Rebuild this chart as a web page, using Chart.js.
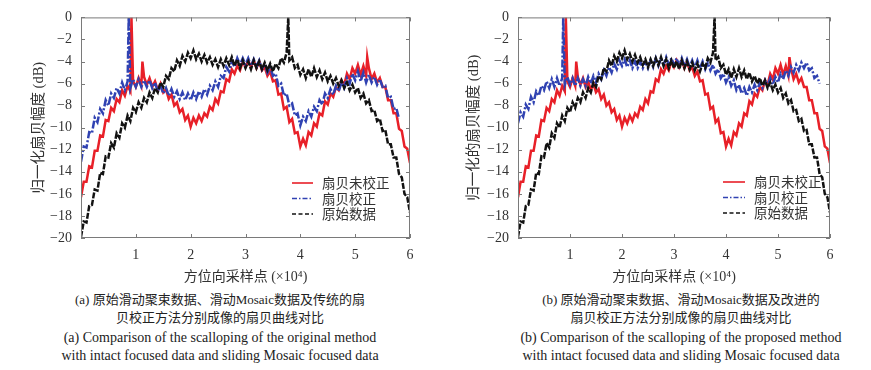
<!DOCTYPE html>
<html>
<head>
<meta charset="utf-8">
<script src="https://cdn.jsdelivr.net/npm/chart.js@4.4.1/dist/chart.umd.min.js"></script>
<style>
  html, body { margin:0; padding:0; background:#fff; }
  body { width:871px; height:370px; position:relative; overflow:hidden; }
  .cv { position:absolute; top:0; }
  .cap { position:absolute; text-align:center; white-space:nowrap; color:#222; }
  .zh { font-family:'Liberation Serif','Noto Sans CJK SC',serif; font-size:13px; line-height:18px; }
  .en { font-family:'Liberation Serif',serif; font-size:14px; line-height:18px; }
</style>
</head>
<body>
<canvas id="c1" class="cv" style="left:0px" width="440" height="290"></canvas>
<canvas id="c2" class="cv" style="left:440px" width="431" height="290"></canvas>

<div class="cap zh" style="left:20px;width:400px;top:291px">(a) 原始滑动聚束数据、滑动Mosaic数据及传统的扇</div>
<div class="cap zh" style="left:20px;width:400px;top:309px">贝校正方法分别成像的扇贝曲线对比</div>
<div class="cap en" style="left:20px;width:400px;top:329px">(a) Comparison of the scalloping of the original method</div>
<div class="cap en" style="left:20px;width:400px;top:347px">with intact focused data and sliding Mosaic focused data</div>

<div class="cap zh" style="left:481px;width:400px;top:291px">(b) 原始滑动聚束数据、滑动Mosaic数据及改进的</div>
<div class="cap zh" style="left:481px;width:400px;top:309px">扇贝校正方法分别成像的扇贝曲线对比</div>
<div class="cap en" style="left:481px;width:400px;top:329px">(b) Comparison of the scalloping of the proposed method</div>
<div class="cap en" style="left:481px;width:400px;top:347px">with intact focused data and sliding Mosaic focused data</div>

<script>
// ---- data (x in units of 10^4 azimuth samples, y in dB) ----
const xGrid = [0,0.05,0.1,0.15,0.2,0.25,0.3,0.35,0.4,0.45,0.5,0.55,0.6,0.65,0.7,0.75,0.8,0.85,0.9,0.95,
  1,1.05,1.1,1.15,1.2,1.25,1.3,1.35,1.4,1.45,1.5,1.55,1.6,1.65,1.7,1.75,1.8,1.85,1.9,1.95,
  2,2.05,2.1,2.15,2.2,2.25,2.3,2.35,2.4,2.45,2.5,2.55,2.6,2.65,2.7,2.75,2.8,2.85,2.9,2.95,
  3,3.05,3.1,3.15,3.2,3.25,3.3,3.35,3.4,3.45,3.5,3.55,3.6,3.65,3.7,3.75,3.8,3.85,3.9,3.95,
  4,4.05,4.1,4.15,4.2,4.25,4.3,4.35,4.4,4.45,4.5,4.55,4.6,4.65,4.7,4.75,4.8,4.85,4.9,4.95,
  5,5.05,5.1,5.15,5.2,5.25,5.3,5.35,5.4,5.45,5.5,5.55,5.6,5.65,5.7,5.75,5.8,5.85,5.9,5.95,6];

// 扇贝未校正 (same in both panels)
const redUncorrected = [-16.3,-14.9,-14.9,-13.5,-13.6,-12.1,-12.1,-10.7,-10.8,-9.3,-9.4,-8.2,-8.5,-7.4,-7.7,-6.6,-7.1,-6.2,-6.7,-5.8,
  -6.3,-5.5,-6.2,-5.4,-6.1,-5.5,-6.3,-5.8,-6.6,-6.0,-6.8,-6.5,-7.4,-7.0,-8.0,-7.7,-8.6,-8.3,-9.3,-8.9,
  -9.9,-9.1,-9.6,-8.9,-9.4,-8.7,-9.0,-8.1,-8.4,-7.4,-7.8,-6.7,-6.8,-5.6,-5.8,-4.7,-5.1,-4.4,-4.8,-4.0,
  -4.5,-3.9,-4.5,-3.9,-4.6,-4.0,-4.8,-4.5,-5.3,-4.9,-5.8,-5.7,-7.0,-6.9,-8.3,-8.1,-9.5,-9.2,-10.5,-10.4,
  -11.7,-11.0,-11.6,-10.4,-10.7,-9.6,-9.9,-8.7,-8.9,-7.6,-7.9,-6.9,-7.2,-6.3,-6.6,-5.7,-6.1,-5.1,-5.6,-4.6,
  -5.1,-4.3,-5.2,-4.4,-5.3,-4.6,-5.6,-5.1,-5.9,-5.5,-6.3,-6.3,-7.5,-7.5,-8.7,-8.7,-10.1,-10.3,-11.7,-11.9,-13.2];
const redSpikeX = [0.92, 1.12, 5.22];
const redSpikeY = [0, -4.0, -3.6];

// 扇贝校正 — panel (a), conventional correction (ends at 5.8)
const blueConventional = [-13.1,-11.7,-11.8,-10.4,-10.5,-9.1,-9.5,-8.3,-8.7,-7.5,-8.0,-6.9,-7.3,-6.4,-6.9,-5.9,-6.6,-5.8,-6.4,-5.6,
  -6.3,-5.6,-6.3,-5.7,-6.3,-5.7,-6.4,-5.9,-6.7,-6.2,-6.9,-6.4,-7.1,-6.5,-7.2,-6.7,-7.4,-6.8,-7.5,-6.9,
  -7.5,-6.8,-7.4,-6.7,-7.2,-6.5,-7.0,-6.2,-6.6,-5.8,-6.3,-5.3,-5.5,-4.5,-4.9,-4.0,-4.5,-3.7,-4.3,-3.7,
  -4.3,-3.7,-4.4,-3.8,-4.5,-3.9,-4.7,-4.2,-5.0,-4.5,-5.3,-5.1,-6.2,-6.0,-7.1,-6.9,-8.0,-7.8,-8.9,-8.7,
  -9.8,-9.0,-9.4,-8.5,-9.0,-8.1,-8.5,-7.5,-7.9,-6.9,-7.3,-6.5,-7.0,-6.2,-6.7,-5.9,-6.4,-5.5,-6.0,-5.1,
  -5.7,-4.9,-5.8,-5.0,-5.9,-5.2,-5.9,-5.4,-6.1,-5.6,-6.3,-6.2,-7.3,-7.2,-8.3,-8.2,-9.2];
const blueConvSpikeX = [0.87];
const blueConvSpikeY = [0];

// 扇贝校正 — panel (b), proposed correction (ends at 5.8)
const blueProposed = [-9.6,-8.6,-9.0,-7.9,-8.3,-7.2,-7.7,-6.7,-7.1,-6.2,-6.6,-5.8,-6.4,-5.6,-6.3,-5.5,-6.2,-5.5,-6.1,-5.4,
  -6.1,-5.5,-6.2,-5.5,-6.2,-5.6,-6.2,-5.4,-6.0,-5.3,-5.9,-5.1,-5.6,-4.8,-5.3,-4.5,-5.0,-4.2,-4.7,-3.9,
  -4.4,-3.8,-4.5,-3.9,-4.6,-4.0,-4.6,-4.0,-4.6,-4.0,-4.6,-3.9,-4.5,-3.7,-4.4,-3.7,-4.3,-3.6,-4.3,-3.7,
  -4.3,-3.7,-4.4,-3.7,-4.4,-3.8,-4.5,-3.9,-4.6,-3.9,-4.6,-4.0,-4.7,-4.1,-4.8,-4.3,-5.1,-4.7,-5.5,-5.1,
  -5.9,-5.4,-6.2,-5.7,-6.6,-6.1,-6.9,-6.4,-7.1,-6.3,-6.8,-6.1,-6.6,-5.9,-6.4,-5.7,-6.2,-5.5,-6.1,-5.4,
  -5.9,-5.1,-5.6,-4.8,-5.3,-4.5,-5.0,-4.3,-4.8,-4.1,-4.6,-4.1,-4.8,-4.6,-5.5,-5.3,-6.0];
const blueProSpikeX = [0.87];
const blueProSpikeY = [0];

// 原始数据 (same in both panels)
const blackOriginal = [-19.9,-18.5,-18.6,-17.1,-17.0,-15.6,-15.7,-14.1,-14.2,-12.6,-12.7,-11.4,-11.8,-10.5,-10.9,-9.6,-10.0,-8.9,-9.4,-8.2,
  -8.6,-7.7,-8.2,-7.3,-7.7,-6.8,-7.3,-6.4,-6.8,-5.9,-6.3,-5.3,-5.6,-4.6,-4.9,-3.9,-4.4,-3.5,-4.0,-3.2,
  -3.7,-3.0,-3.8,-3.3,-4.0,-3.4,-4.1,-3.6,-4.3,-3.8,-4.5,-3.8,-4.4,-3.7,-4.3,-3.6,-4.4,-3.8,-4.6,-3.9,
  -4.6,-4.0,-4.7,-3.9,-4.6,-4.0,-4.7,-4.1,-4.8,-4.2,-4.9,-4.2,-4.6,-3.7,-4.1,-3.2,-3.9,-3.6,-4.6,-4.3,
  -5.2,-4.7,-5.5,-4.7,-5.4,-4.6,-5.4,-4.8,-5.6,-5.0,-5.8,-5.3,-6.0,-5.5,-6.2,-5.7,-6.4,-5.9,-6.6,-6.1,
  -6.8,-6.4,-7.3,-6.9,-7.8,-7.5,-8.5,-8.4,-9.4,-9.2,-10.3,-10.2,-11.5,-11.5,-12.7,-12.7,-14.2,-14.5,-16.0,-16.3,-17.7];
const blackSpikeX = [3.78];
const blackSpikeY = [0];

const xTicks = [1, 2, 3, 4, 5, 6];
const yTicks = [0, -2, -4, -6, -8, -10, -12, -14, -16, -18, -20];
const legendLabels = ['扇贝未校正', '扇贝校正', '原始数据'];

// ---- helpers ----
function pts(ys, sx, sy) {
  const p = ys.map((y, i) => ({ x: xGrid[i], y }));
  sx.forEach((x, i) => p.push({ x, y: sy[i] }));
  return p.sort((a, b) => a.x - b.x);
}

const RED = 'rgb(232,32,40)', BLUE = 'rgb(48,66,178)', BLACK = 'rgb(18,18,18)';
const SERIF = "'Liberation Serif','Noto Sans CJK SC',serif";

const framePlugin = {
  id: 'frame',
  afterDatasetsDraw(chart, args, o) {
    const { ctx, chartArea: a, scales: { x, y } } = chart;
    ctx.save();
    ctx.strokeStyle = '#7a7a7a';
    ctx.lineWidth = 1;
    ctx.strokeRect(a.left + 0.5, a.top + 0.5, a.right - a.left - 1, a.bottom - a.top - 1);
    ctx.beginPath();
    xTicks.forEach(v => {
      const px = Math.round(x.getPixelForValue(v)) + 0.5;
      ctx.moveTo(px, a.bottom); ctx.lineTo(px, a.bottom - 4);
      ctx.moveTo(px, a.top); ctx.lineTo(px, a.top + 4);
    });
    yTicks.forEach(v => {
      const py = Math.round(y.getPixelForValue(v)) + 0.5;
      ctx.moveTo(a.left, py); ctx.lineTo(a.left + 4, py);
      ctx.moveTo(a.right, py); ctx.lineTo(a.right - 4, py);
    });
    ctx.stroke();
    // legend
    ctx.font = "13.5px 'Noto Sans CJK SC', sans-serif";
    ctx.textBaseline = 'middle';
    chart.data.datasets.forEach((ds, i) => {
      const yy = o.y + i * o.gap;
      ctx.strokeStyle = ds.borderColor;
      ctx.lineWidth = 1.6;
      ctx.setLineDash(ds.legendDash);
      ctx.beginPath();
      ctx.moveTo(o.x, yy); ctx.lineTo(o.x + o.len, yy);
      ctx.stroke();
      ctx.setLineDash([]);
      ctx.fillStyle = '#333';
      ctx.fillText(ds.label, o.x + o.len + 9, yy);
    });
    ctx.restore();
  }
};

function makeChart(id, blue, bsx, bsy, yTitle, padRight, yWidth, titleOff, legend) {
  const datasets = [
    { label: legendLabels[0], data: pts(redUncorrected, redSpikeX, redSpikeY), borderColor: RED,
      borderWidth: 2.5, borderDash: [], legendDash: [], order: 3 },
    { label: legendLabels[1], data: pts(blue, bsx, bsy), borderColor: BLUE,
      borderWidth: 2.5, borderDash: [8, 2, 2, 2], legendDash: [5, 2, 1.5, 2], order: 2 },
    { label: legendLabels[2], data: pts(blackOriginal, blackSpikeX, blackSpikeY), borderColor: BLACK,
      borderWidth: 2.5, borderDash: [6, 1.5], legendDash: [4, 2.5], order: 1 }
  ];
  datasets.forEach(d => { d.pointRadius = 0; d.tension = 0; d.fill = false; });
  const tickFont = { family: SERIF, size: 14 };
  return new Chart(document.getElementById(id), {
    type: 'line',
    data: { datasets },
    options: {
      responsive: false, animation: false, devicePixelRatio: 1,
      layout: { padding: { left: 0, right: padRight, top: 11, bottom: 0 } },
      plugins: { legend: { display: false }, tooltip: { enabled: false }, frame: legend },
      scales: {
        x: {
          type: 'linear', min: 0, max: 6,
          afterBuildTicks: s => { s.ticks = xTicks.map(v => ({ value: v })); },
          ticks: { font: tickFont, color: '#333', padding: 9, maxRotation: 0, autoSkip: false },
          grid: { display: false, drawTicks: false }, border: { display: false },
          title: { display: true, text: '方位向采样点 (×10⁴)', color: '#333',
                   font: { family: SERIF, size: 14 }, padding: { top: 0, bottom: 4 } },
          afterFit: s => { s.height = 52; }
        },
        y: {
          type: 'linear', min: -20, max: 0,
          afterBuildTicks: s => { s.ticks = yTicks.map(v => ({ value: v })); },
          ticks: { font: tickFont, color: '#333', padding: 9, autoSkip: false,
                   callback: v => String(v).replace('-', '−') },
          grid: { display: false, drawTicks: false }, border: { display: false },
          title: { display: true, text: yTitle, color: '#333',
                   font: { family: SERIF, size: 14.5 }, padding: { top: titleOff, bottom: 0 } },
          afterFit: s => { s.width = yWidth; }
        }
      }
    },
    plugins: [framePlugin]
  });
}

makeChart('c1', blueConventional, blueConvSpikeX, blueConvSpikeY, '归一化扇贝幅度 (dB)', 30, 81, 30,
  { x: 292, y: 183, gap: 15.5, len: 21 });
makeChart('c2', blueProposed, blueProSpikeX, blueProSpikeY, '归一化的扇贝幅度 (dB)', 41, 78, 25,
  { x: 283, y: 182, gap: 15.5, len: 22 });
</script>
</body>
</html>
